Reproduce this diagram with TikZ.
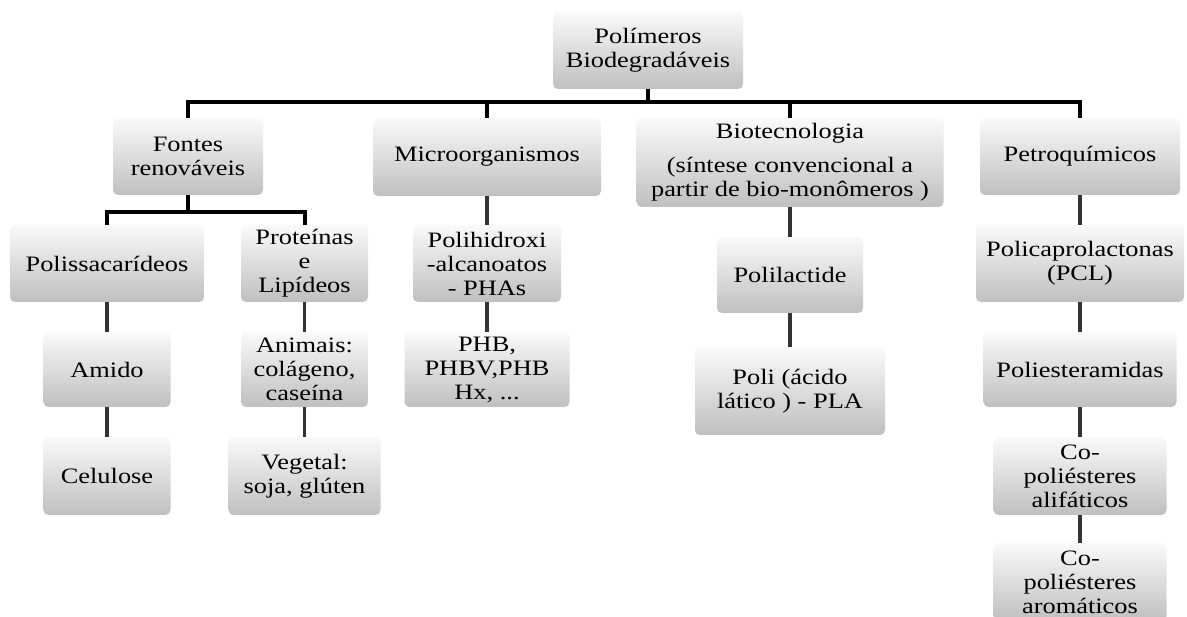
\documentclass[tikz,border=0pt]{standalone}
\usepackage{fontspec}
\setmainfont{Liberation Serif}[FakeStretch=1.2]
\usepackage{tikz}

\begin{document}
\begin{tikzpicture}[x=1pt,y=1pt,
  box/.style={rounded corners=5pt, top color=black!2, bottom color=black!25,
    align=center, inner sep=0pt, font=\fontsize{22}{24}\selectfont},
  bar/.style={line width=4pt, black},
  link/.style={line width=3.5pt, black!80}]
\clip (0,0) rectangle (1187,-617);
\fill[white] (0,0) rectangle (1187,-617);
\node[box, minimum width=190, minimum height=77] (top) at (648,-50.5) {Polímeros\\Biodegradáveis};
\node[box, minimum width=150, minimum height=77] (fontes) at (188,-156.5) {Fontes\\renováveis};
\node[box, minimum width=228, minimum height=78] (micro) at (487,-157) {Microorganismos};
\node[box, minimum width=307, minimum height=89] (biotec) at (790,-162.5) {Biotecnologia\\[10pt](síntese convencional a\\partir de bio-monômeros )};
\node[box, minimum width=200, minimum height=77] (petro) at (1080,-156.5) {Petroquímicos};
\node[box, minimum width=194, minimum height=77] (polis) at (107,-263.5) {Polissacarídeos};
\node[box, minimum width=127, minimum height=77] (prot) at (304.5,-263.5) {Proteínas\\e\\Lipídeos};
\node[box, minimum width=148, minimum height=77] (phas) at (487,-263.5) {Polihidroxi\\-alcanoatos\\- PHAs};
\node[box, minimum width=146, minimum height=76] (polilac) at (790,-275) {Polilactide};
\node[box, minimum width=208, minimum height=77] (pcl) at (1080,-263.5) {Policaprolactonas\\(PCL)};
\node[box, minimum width=127, minimum height=75] (amido) at (107,-369.5) {Amido};
\node[box, minimum width=127, minimum height=75] (animais) at (304.5,-369.5) {Animais:\\colágeno,\\caseína};
\node[box, minimum width=165, minimum height=75] (phb) at (487,-369.5) {PHB,\\PHBV,PHB\\Hx, ...};
\node[box, minimum width=190, minimum height=88] (pla) at (790,-391) {Poli (ácido\\lático ) - PLA};
\node[box, minimum width=193, minimum height=75] (poliest) at (1080,-369.5) {Poliesteramidas};
\node[box, minimum width=127, minimum height=78] (celulose) at (107,-476) {Celulose};
\node[box, minimum width=152, minimum height=78] (vegetal) at (304.5,-476) {Vegetal:\\soja, glúten};
\node[box, minimum width=173, minimum height=78] (coalif) at (1080,-476) {Co-\\poliésteres\\alifáticos};
\node[box, minimum width=173, minimum height=78] (coarom) at (1080,-582) {Co-\\poliésteres\\aromáticos};
\draw[bar] (top.south) -- ++(0,-13) coordinate (mainbar);
\foreach \n in {fontes,micro,biotec,petro}
  \draw[bar] (mainbar) -| (\n.north);
\draw[bar] (fontes.south) -- ++(0,-17) coordinate (subbar);
\foreach \n in {polis,prot}
  \draw[bar] (subbar) -| (\n.north);
\foreach \a/\b in {polis/amido,amido/celulose,prot/animais,animais/vegetal,micro/phas,phas/phb,
    biotec/polilac,polilac/pla,petro/pcl,pcl/poliest,poliest/coalif,coalif/coarom}
  \draw[link] (\a) -- (\b);
\end{tikzpicture}
\end{document}
